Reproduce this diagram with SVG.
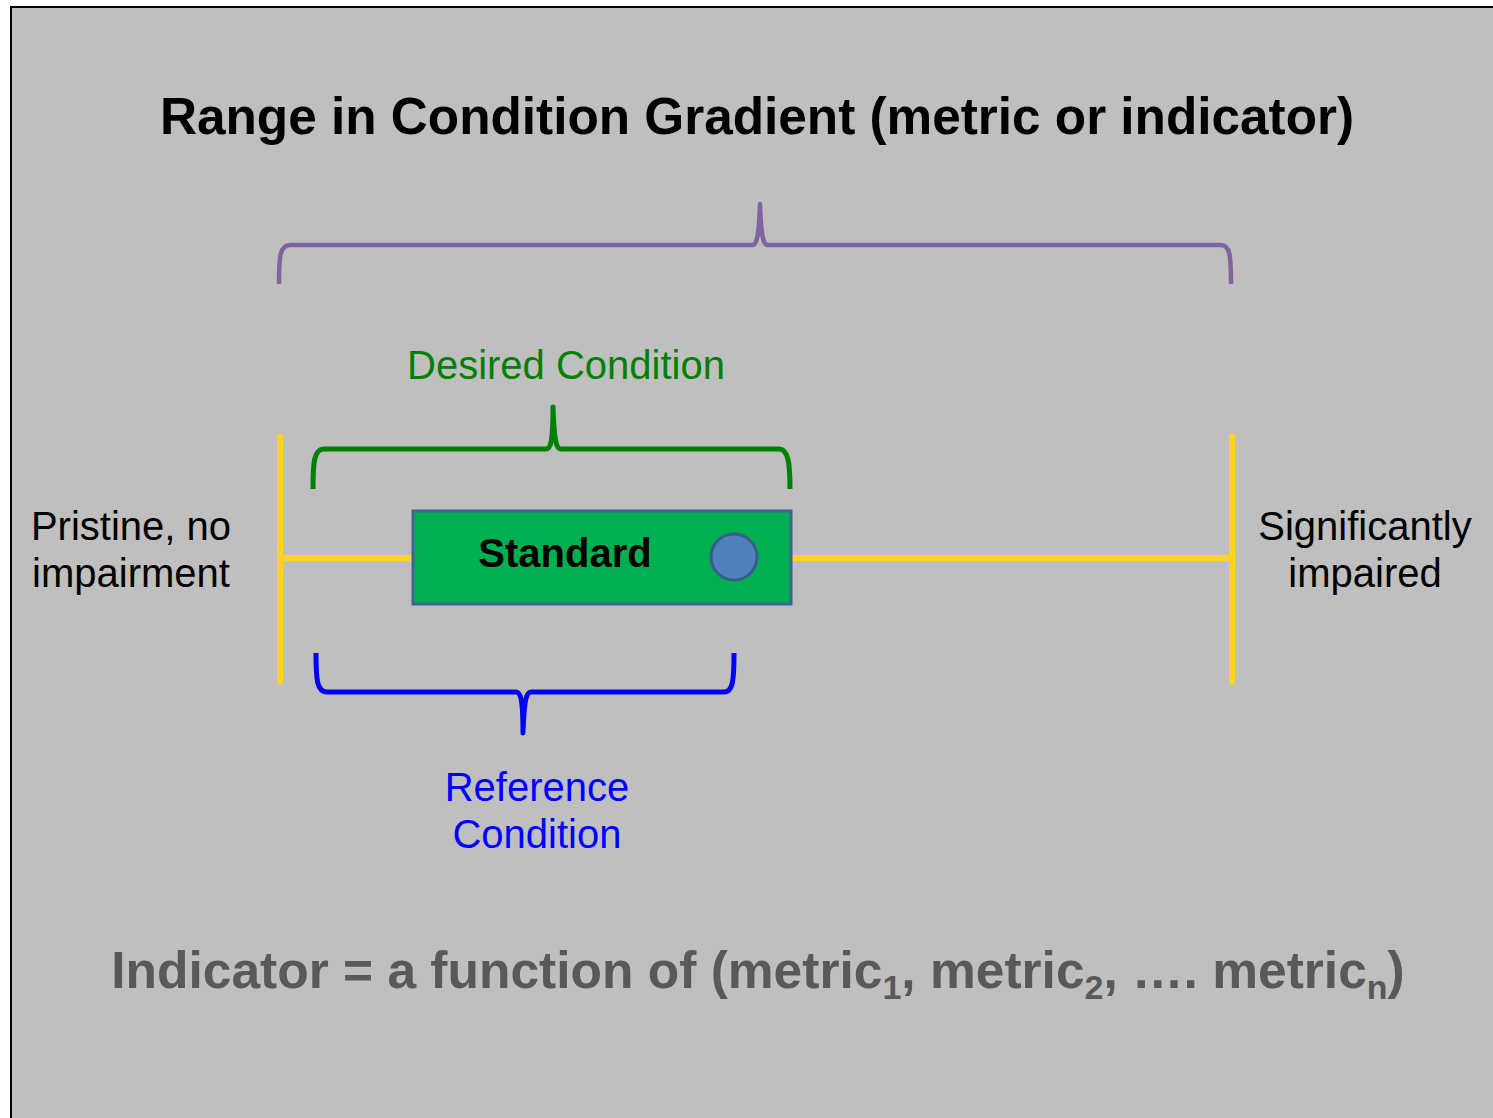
<svg xmlns="http://www.w3.org/2000/svg" width="1493" height="1118" viewBox="0 0 1493 1118">
  <style>
    .sans { font-family: "Liberation Sans", Arial, sans-serif; }
    .label { font-size: 40px; }
    .bold { font-weight: bold; }
    .brace { fill: none; stroke-linecap: butt; stroke-linejoin: round; }
    .axis { stroke: #FFD320; stroke-width: 6; fill: none; }
  </style>
  <rect x="0" y="0" width="1493" height="1118" fill="#FFFFFF"/>
  <rect x="11" y="7" width="1500" height="1130" fill="#BFBFBF" stroke="#000000" stroke-width="2"/>

  <g id="title">
    <text class="sans bold" x="757" y="134" font-size="51.3" text-anchor="middle" fill="#000000">Range in Condition Gradient (metric or indicator)</text>
  </g>

  <g id="connectors">
    <!-- condition gradient axis -->
    <line class="axis" x1="280" y1="434" x2="280" y2="684"/>
    <line class="axis" x1="1232" y1="434" x2="1232" y2="684"/>
    <line class="axis" x1="280" y1="558" x2="1232" y2="558"/>
    <!-- overall range brace -->
    <path class="brace" stroke="#8064A2" stroke-width="4.5" d="M279,284 C279,256 280,245 290,245 L752,245 C757,245 759,236 760,204 C761,236 763,245 768,245 L1221,245 C1230,245 1231,256 1231,284"/>
    <!-- desired condition brace -->
    <path class="brace" stroke="#008000" stroke-width="5" d="M313,489 C313,462 314,449 324,449 L546,449 C551,449 553,440 553,407 C554,440 556,449 561,449 L779,449 C788,449 790,462 790,489"/>
    <!-- reference condition brace -->
    <path class="brace" stroke="#0000FF" stroke-width="5" d="M316,653 C316,680 317,692 327,692 L516,692 C521,692 523,701 523,733 C524,701 526,692 531,692 L724,692 C733,692 734,680 734,653"/>
  </g>

  <g id="standard">
    <rect x="413" y="511" width="378" height="93" fill="#00B050" stroke="#3F6494" stroke-width="3"/>
    <text class="sans bold" x="565" y="567" font-size="40" text-anchor="middle" fill="#000000">Standard</text>
    <circle cx="734" cy="557" r="23" fill="#4F81BD" stroke="#385D8A" stroke-width="3"/>
  </g>

  <g id="desired-condition">
    <text class="sans label" x="566" y="379" text-anchor="middle" fill="#008000">Desired Condition</text>
  </g>

  <g id="reference-condition">
    <text class="sans label" x="537" y="801" text-anchor="middle" fill="#0000FF">Reference</text>
    <text class="sans label" x="537" y="848" text-anchor="middle" fill="#0000FF">Condition</text>
  </g>

  <g id="pristine">
    <text class="sans label" x="131" y="540" text-anchor="middle" fill="#000000">Pristine, no</text>
    <text class="sans label" x="131" y="587" text-anchor="middle" fill="#000000">impairment</text>
  </g>

  <g id="impaired">
    <text class="sans label" x="1365" y="540" text-anchor="middle" fill="#000000">Significantly</text>
    <text class="sans label" x="1365" y="587" text-anchor="middle" fill="#000000">impaired</text>
  </g>

  <g id="indicator">
    <text class="sans bold" x="758" y="988" font-size="51.5" text-anchor="middle" fill="#595959">Indicator = a function of (metric<tspan font-size="34" dy="11">1</tspan><tspan dy="-11">, metric</tspan><tspan font-size="34" dy="11">2</tspan><tspan dy="-11">, …. metric</tspan><tspan font-size="34" dy="11">n</tspan><tspan dy="-11">)</tspan></text>
  </g>
</svg>
